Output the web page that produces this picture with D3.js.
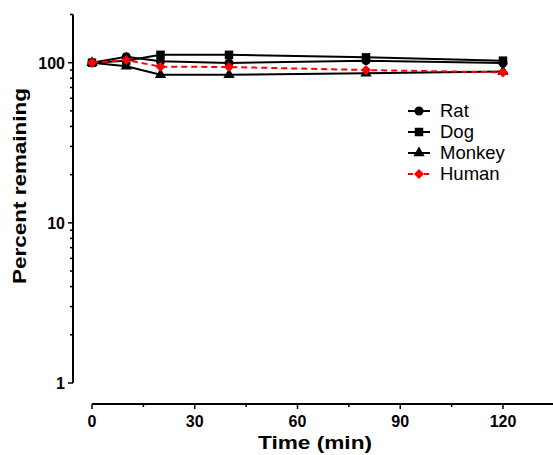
<!DOCTYPE html>
<html>
<head>
<meta charset="utf-8">
<script src="https://cdn.jsdelivr.net/npm/d3@7"></script>
<style>
  body { margin: 0; background: #fff; }
  svg text { font-family: Arial, "Liberation Sans", sans-serif; }
</style>
</head>
<body>
<div id="chart"></div>
<script>
// time points (min)
const times = [0, 10, 20, 40, 80, 120];
// percent remaining per species
const rat = [100, 109, 102, 99.5, 103, 99.5];
const dog = [100, 103, 112, 112, 108, 103];
const monkey = [100, 95, 84, 84, 86, 88];
const human = [100, 104, 94.5, 94, 90, 87];
const seriesNames = ["Rat", "Dog", "Monkey", "Human"];
const xTicks = [0, 30, 60, 90, 120];
const yTicks = [1, 10, 100];

const width = 553, height = 455;
const svg = d3.select("#chart").append("svg")
    .attr("width", width).attr("height", height);

const x = d3.scaleLinear().domain([0, 140]).range([92, 571.5]);
const y = d3.scaleLog().domain([1, 200]).range([383, 14.5]);

// diamond drawn as a rotated square (the library's diamond is too tall)
const series = [
    {name: seriesNames[0], vals: rat, color: "#000", shape: d3.symbolCircle, size: 64, rot: 0, dash: null},
    {name: seriesNames[1], vals: dog, color: "#000", shape: d3.symbolSquare, size: 72, rot: 0, dash: null},
    {name: seriesNames[2], vals: monkey, color: "#000", shape: d3.symbolTriangle, size: 55, rot: 0, dash: null},
    {name: seriesNames[3], vals: human, color: "#f00", shape: d3.symbolSquare, size: 50, rot: 45, dash: "6,4"}
];

// x axis
const xAxis = svg.append("g").attr("transform", "translate(0,404)");
xAxis.append("path").attr("d", `M${x(0)},0H${width}`).attr("stroke", "#000").attr("stroke-width", 2);
const minorX = d3.range(15, 140, 30);
xAxis.selectAll(".mx").data(minorX).enter().append("line")
    .attr("x1", d => x(d)).attr("x2", d => x(d)).attr("y1", 0).attr("y2", 3)
    .attr("stroke", "#000").attr("stroke-width", 1.5);
xAxis.selectAll(".tx").data(xTicks).enter().append("line")
    .attr("x1", d => x(d)).attr("x2", d => x(d)).attr("y1", 0).attr("y2", 5)
    .attr("stroke", "#000").attr("stroke-width", 1.5);
xAxis.selectAll(".lx").data(xTicks).enter().append("text")
    .attr("x", d => x(d)).attr("y", 23).attr("text-anchor", "middle")
    .attr("font-size", 16).attr("font-weight", "bold").text(d => d);
svg.append("text").attr("x", 258).attr("y", 449)
    .attr("textLength", 114).attr("lengthAdjust", "spacingAndGlyphs")
    .attr("font-size", 19).attr("font-weight", "bold").text("Time (min)");

// y axis
const yAxis = svg.append("g").attr("transform", "translate(73,0)");
yAxis.append("path").attr("d", `M0,${y(200)}V${y(1)}`).attr("stroke", "#000").attr("stroke-width", 2);
const minorY = [];
[1, 10, 100].forEach(b => d3.range(2, 10).forEach(m => { if (b * m <= 200) minorY.push(b * m); }));
yAxis.selectAll(".my").data(minorY).enter().append("line")
    .attr("x1", -3).attr("x2", 0).attr("y1", d => y(d)).attr("y2", d => y(d))
    .attr("stroke", "#000").attr("stroke-width", 1.5);
yAxis.selectAll(".ty").data(yTicks).enter().append("line")
    .attr("x1", -5).attr("x2", 0).attr("y1", d => y(d)).attr("y2", d => y(d))
    .attr("stroke", "#000").attr("stroke-width", 1.5);
yAxis.selectAll(".ly").data(yTicks).enter().append("text")
    .attr("x", -8).attr("y", d => y(d) + 6).attr("text-anchor", "end")
    .attr("font-size", 16).attr("font-weight", "bold").text(d => d);
svg.append("text").attr("transform", "translate(26,284) rotate(-90)")
    .attr("textLength", 196).attr("lengthAdjust", "spacingAndGlyphs")
    .attr("font-size", 19).attr("font-weight", "bold")
    .text("Percent remaining");

// lines and markers
const line = d3.line().x((d, i) => x(times[i])).y(d => y(d));
series.forEach(s => {
    svg.append("path").datum(s.vals).attr("d", line)
        .attr("fill", "none").attr("stroke", s.color).attr("stroke-width", 2)
        .attr("stroke-dasharray", s.dash);
    svg.append("g").selectAll("path").data(s.vals).enter().append("path")
        .attr("d", d3.symbol().type(s.shape).size(s.size))
        .attr("transform", (d, i) => `translate(${x(times[i])},${y(d)}) rotate(${s.rot})`)
        .attr("fill", s.color);
});

// legend
const legend = svg.append("g").attr("transform", "translate(408,111)");
series.forEach((s, i) => {
    const g = legend.append("g").attr("transform", `translate(0,${i * 21})`);
    g.append("line").attr("x1", 0).attr("x2", 22).attr("y1", 0).attr("y2", 0)
        .attr("stroke", s.color).attr("stroke-width", 2).attr("stroke-dasharray", s.dash ? "5,3" : null);
    g.append("path").attr("d", d3.symbol().type(s.shape).size(s.size))
        .attr("transform", `translate(11,0) rotate(${s.rot})`).attr("fill", s.color);
    g.append("text").attr("x", 32).attr("y", 6).attr("font-size", 18.5).text(s.name);
});
</script>
</body>
</html>
